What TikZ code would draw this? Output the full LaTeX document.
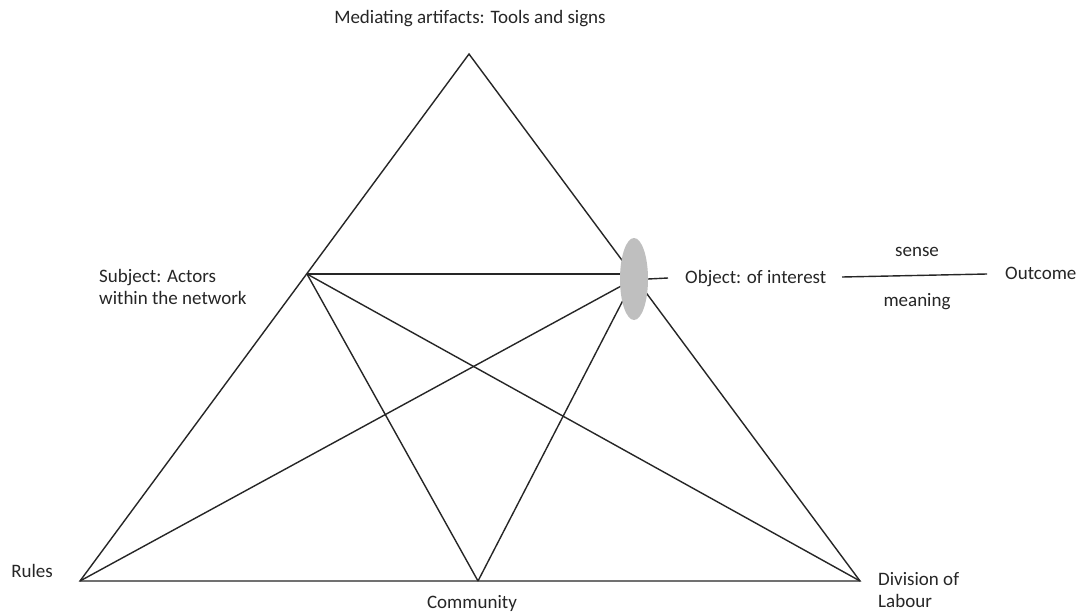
\documentclass[tikz,border=0pt]{standalone}
\usepackage{fontspec}
\setmainfont{Carlito}
\usetikzlibrary{shapes}
\usetikzlibrary{positioning}
\tikzset{
edgeline/.style={draw=black!85,line width=1.4pt},
lbl/.style={font=\fontsize{19}{22}\selectfont,text=black!85,inner sep=0pt},
objell/.style={ellipse,fill=black!25,draw=none,minimum width=28pt,minimum height=82pt,inner sep=0pt}
}
\begin{document}
\begin{tikzpicture}[x=1pt,y=-1pt]
\useasboundingbox[fill=white] (0,0) rectangle (1081,615);

\coordinate (Apex) at (469,54);
\coordinate (Rules) at (80,581);
\coordinate (Div) at (860,581);
\coordinate (Comm) at (478,581);
\coordinate (Subj) at (307,274);
\coordinate (Otick) at (668,278);
\coordinate (Oleft) at (842,277);
\coordinate (Oright) at (987,274);

% triangle and inner lines
\draw[edgeline] (Apex) -- (Rules) -- (Div) -- cycle;
\draw[edgeline] (Subj) -- (Comm);
\draw[edgeline] (Subj) -- (Div);
\draw[edgeline] (Subj) -- (634,274);
\draw[edgeline] (Rules) -- (634,279);
\draw[edgeline] (Comm) -- (634,279);

\node[objell](Obj) at (634,279){};
\draw[edgeline] (Obj.east) -- (Otick);
\draw[edgeline] (Oleft) -- (Oright);

\node[lbl] (Medtxt) at (470,19) {Mediating artifacts: Tools and signs};
\node[lbl,anchor=west,align=left] (Subjtxt) at (99,287) {Subject: Actors\\within the network};
\node[lbl,anchor=west] (Objtxt) at (685,279) {Object: of interest};
\node[lbl] (Sensetxt) at (917,252) {sense};
\node[lbl] (Meantxt) at (917,302) {meaning};
\node[lbl,anchor=west] (Outtxt) at (1005,273) {Outcome};
\node[lbl,anchor=east] (Rulestxt) at (53,571) {Rules};
\node[lbl] (Commtxt) at (472,603) {Community};
\node[lbl,anchor=west,align=left] (Divtxt) at (878,590) {Division of\\Labour};

\end{tikzpicture}
\end{document}
